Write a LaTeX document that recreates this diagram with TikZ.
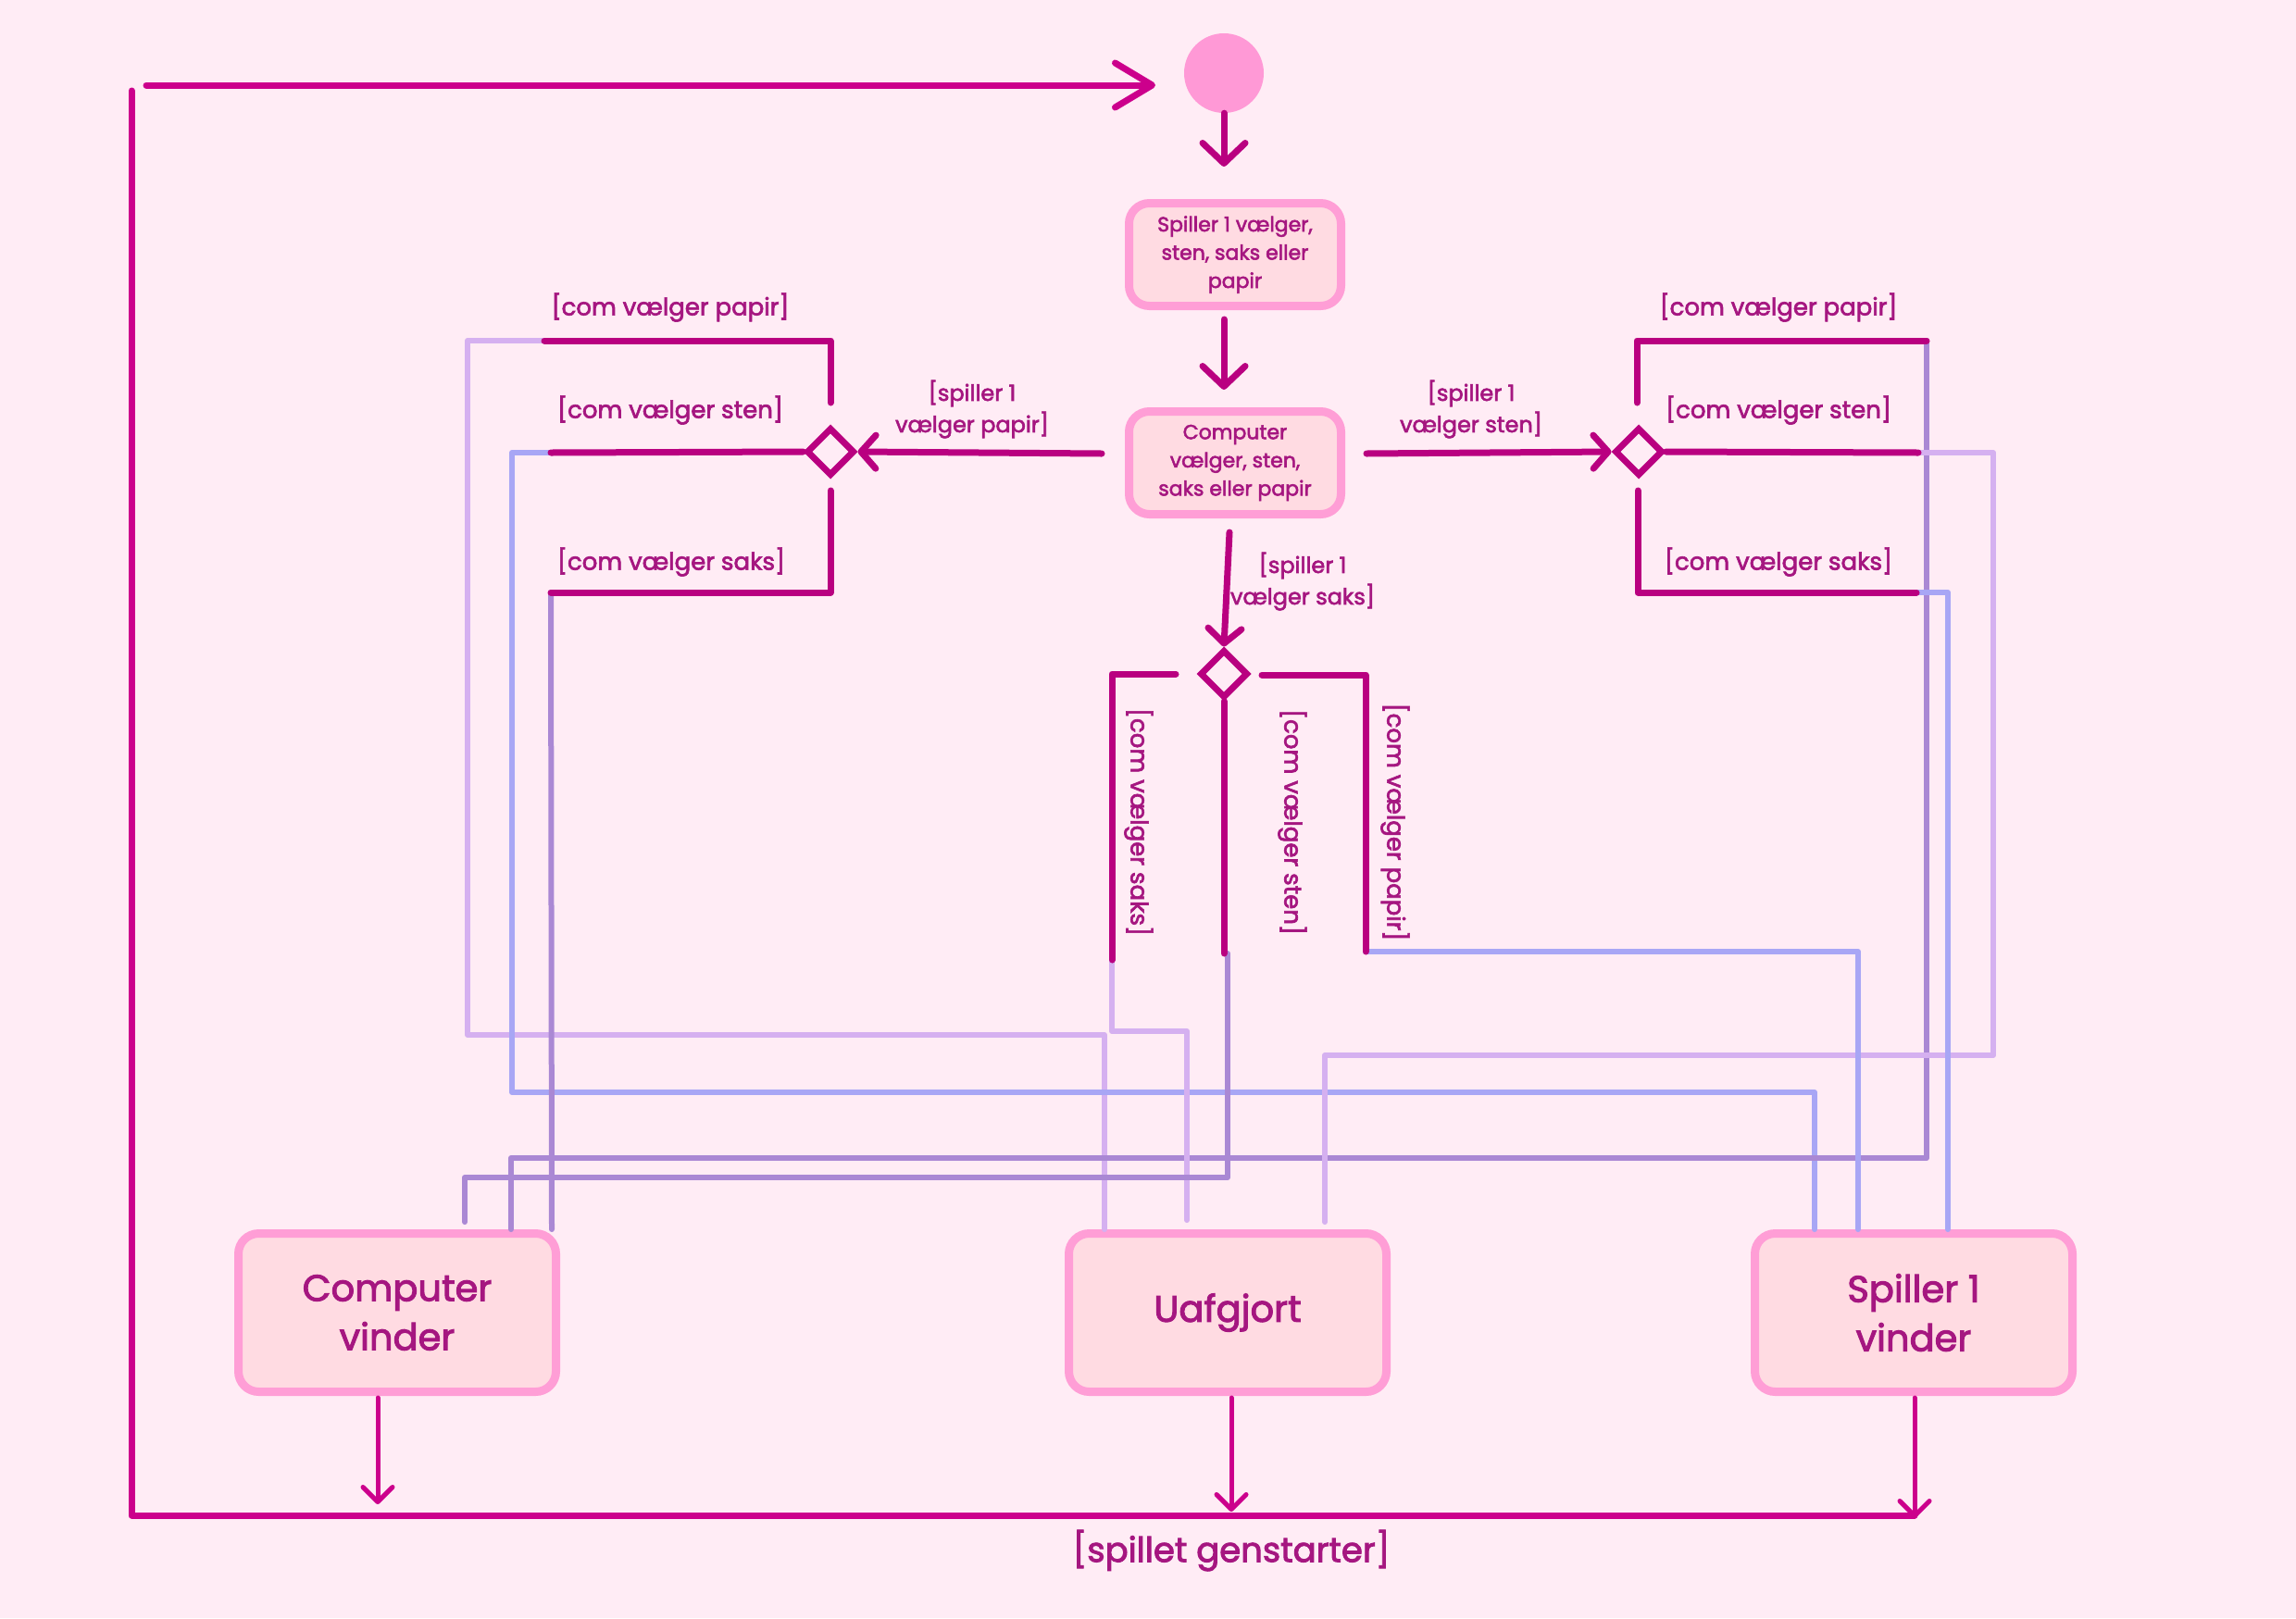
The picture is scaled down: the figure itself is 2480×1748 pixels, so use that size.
\documentclass[tikz,border=0pt]{standalone}
\usepackage{fontspec}
\newfontfamily\pf{Poppins}[FakeBold=2.5]
\usetikzlibrary{shapes.geometric,arrows.meta}
\definecolor{bgc}{RGB}{255,236,245}
\definecolor{mag}{RGB}{185,0,128}
\definecolor{mag2}{RGB}{204,0,140}
\definecolor{txt}{RGB}{165,22,128}
\definecolor{boxf}{RGB}{255,219,226}
\definecolor{boxd}{RGB}{255,158,214}
\definecolor{startc}{RGB}{255,153,214}
\definecolor{lav}{RGB}{213,176,240}
\definecolor{blu}{RGB}{168,166,245}
\definecolor{pur}{RGB}{170,136,212}
\begin{document}
\begin{tikzpicture}[x=1pt,y=-1pt,
  boxn/.style={draw=boxd, line width=9pt, fill=boxf, rounded corners=22pt, inner sep=0pt, align=center, text=txt},
  smallbox/.style={boxn, minimum width=229pt, minimum height=111pt, font=\pf\fontsize{22}{30.5}\selectfont},
  bigbox/.style={boxn, minimum width=343pt, minimum height=171pt, font=\pf\fontsize{40}{53}\selectfont},
  dia/.style={diamond, draw=mag, line width=7pt, minimum width=52pt, minimum height=52pt, inner sep=0pt, aspect=1},
  startn/.style={circle, fill=startc, minimum size=86pt, inner sep=0pt},
  mline/.style={draw=mag, line width=7pt, line cap=round, line join=round},
  loopl/.style={draw=mag2, line width=7pt, line cap=round, line join=round},
  cline/.style={line width=6pt, line cap=round, line join=round},
  arrB/.style={-{Straight Barb[length=22pt,width=46pt,round]}},
  arrS/.style={-{Straight Barb[length=16pt,width=36pt,round]}},
  arrTop/.style={-{Straight Barb[length=40pt,width=48pt,round]}},
  thinarr/.style={draw=mag2, line width=5pt, line cap=round, -{Straight Barb[length=16pt,width=32pt,round]}},
  lab/.style={text=txt, inner sep=0pt, font=\pf\fontsize{26}{34}\selectfont},
  slab/.style={text=txt, inner sep=0pt, align=center, font=\pf\fontsize{24}{34}\selectfont}
]
\fill[bgc] (0,0) rectangle (2480,1748);
\useasboundingbox (0,0) rectangle (2480,1748);

% ---- nodes
\node[startn] (st) at (1322,79) {};
\node[smallbox] (b1) at (1334,275) {Spiller 1 vælger,\\sten, saks eller\\papir};
\node[smallbox] (b2) at (1334,500) {Computer\\vælger, sten,\\saks eller papir};
\node[dia] (dL) at (897,488) {};
\node[dia] (dR) at (1770,488) {};
\node[dia] (dB) at (1322,728) {};
\node[bigbox] (cv) at (429,1418) {Computer\\vinder};
\node[bigbox] (ua) at (1326,1418) {Uafgjort};
\node[bigbox] (sv) at (2067,1418) {Spiller 1\\vinder};

% ---- coordinates
\coordinate (t1) at (1322,180);
\coordinate (b1o) at (1322,345);
\coordinate (t2) at (1322,421);
\coordinate (b2l) at (1190,490);
\coordinate (b2r) at (1476,490);
\coordinate (b2b) at (1328,575);
\coordinate (lpT) at (588,368);
\coordinate (lsM) at (595,489);
\coordinate (lkB) at (595,640);
\coordinate (rpT) at (2081,368);
\coordinate (rsM) at (2072,489);
\coordinate (rkB) at (2070,640);
\coordinate (bkL) at (1201,1037);
\coordinate (bsM) at (1322,1030);
\coordinate (bpR) at (1475,1028);
\coordinate (loopS) at (158,92);
\coordinate (topTip) at (1248,92);
\coordinate (loopTL) at (142,98);
\coordinate (loopBL) at (142,1637);
\coordinate (loopBR) at (2068,1637);

% ---- colored routing lines
% left diamond (spiller papir)
\draw[cline,lav] (lpT) -- (505,368) -- (505,1118) -- (1193,1118) -- (1193,0 |- ua.north);
\draw[cline,blu] (lsM) -- (553,489) -- (553,1180) -- (1960,1180) -- (1960,0 |- sv.north);
\draw[cline,pur] (lkB) -- (596,0 |- cv.north);
% right diamond (spiller sten)
\draw[cline,pur] (rpT) -- (2081,1251) -- (552,1251) -- (552,0 |- cv.north);
\draw[cline,lav] (rsM) -- (2153,489) -- (2153,1140) -- (1431,1140) -- (1431,1320);
\draw[cline,blu] (rkB) -- (2104,640) -- (2104,0 |- sv.north);
% bottom diamond (spiller saks)
\draw[cline,lav] (bkL) -- (1201,1114) -- (1282,1114) -- (1282,1318);
\draw[cline,pur] (1326,1030) -- (1326,1272) -- (502,1272) -- (502,1320);
\draw[cline,blu] (bpR) -- (2007,1028) -- (2007,0 |- sv.north);

% ---- magenta connectors
\draw[mline,arrB] (st.south) -- (t1);
\draw[mline,arrB] (b1o) -- (t2);
\draw[mline,arrS] (b2l) -- (dL.east);
\draw[mline,arrS] (b2r) -- (dR.west);
\draw[mline,arrS] (b2b) -- (dB.north);

\draw[mline] (897,435) -- (897,368) -- (lpT);
\draw[mline] (dL.west) -- (lsM);
\draw[mline] (897,530) -- (897,640) -- (lkB);

\draw[mline] (1768,435) -- (1768,368) -- (rpT);
\draw[mline] (dR.east) -- (rsM);
\draw[mline] (1769,530) -- (1769,640) -- (rkB);

\draw[mline] (1270,728) -- (1201,728) -- (bkL);
\draw[mline] (dB.south) -- (bsM);
\draw[mline] (1363,729) -- (1475,729) -- (bpR);

% ---- outer loop
\draw[loopl] (loopTL) -- (loopBL) -- (loopBR);
\draw[loopl,arrTop] (loopS) -- (topTip);
\draw[thinarr] (408,1510) -- (408,1625);
\draw[thinarr] (1330,1510) -- (1330,1633);
\draw[thinarr] (2068,1510) -- (2068,1640);

% ---- labels
\node[lab] (lL1) at (724,332) {[com vælger papir]};
\node[lab] (lL2) at (724,443) {[com vælger sten]};
\node[lab] (lL3) at (725,607) {[com vælger saks]};
\node[lab] (lR1) at (1921,332) {[com vælger papir]};
\node[lab] (lR2) at (1921,443) {[com vælger sten]};
\node[lab] (lR3) at (1921,607) {[com vælger saks]};
\node[slab] (sp1) at (1050,442) {[spiller 1\\vælger papir]};
\node[slab] (sp2) at (1589,442) {[spiller 1\\vælger sten]};
\node[slab] (sp3) at (1407,628) {[spiller 1\\vælger saks]};
\node[lab,rotate=-90] (vB1) at (1230,888) {[com vælger saks]};
\node[lab,rotate=-90] (vB2) at (1396,888) {[com vælger sten]};
\node[lab,rotate=-90] (vB3) at (1507,888) {[com vælger papir]};
\node[text=txt, inner sep=0pt, font=\pf\fontsize{37}{46}\selectfont] (gen) at (1330,1675) {[spillet genstarter]};
\end{tikzpicture}
\end{document}
